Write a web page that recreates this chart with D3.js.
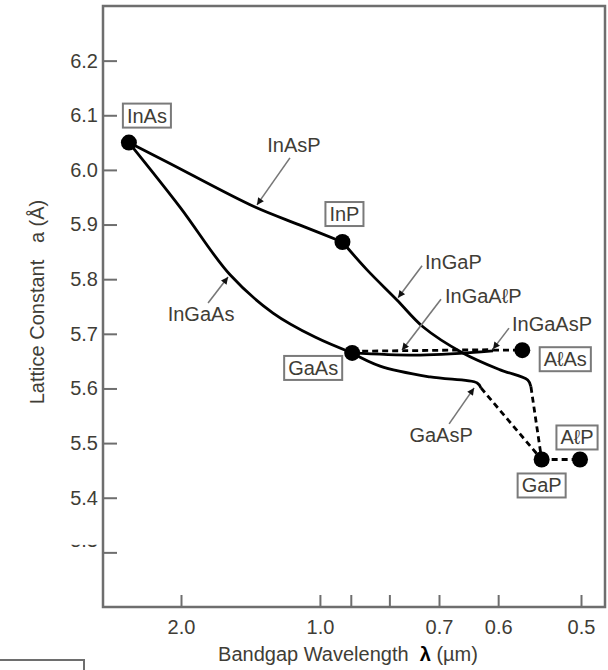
<!DOCTYPE html>
<html>
<head>
<meta charset="utf-8">
<script src="https://cdn.jsdelivr.net/npm/d3@7"></script>
<style>
  body { margin: 0; background: #fff; }
  svg { display: block; font-family: "Liberation Sans", Arial, Helvetica, sans-serif; }
</style>
</head>
<body>
<script>
// binary compounds: bandgap wavelength (um) and lattice constant (A)
var compounds = ["InAs", "InP", "GaAs", "A\u2113As", "GaP", "A\u2113P"];
var compoundLambda = [3.2, 0.925, 0.896, 0.567, 0.543, 0.501];
var compoundA = [6.05, 5.868, 5.665, 5.67, 5.47, 5.47];

// alloy curves (lambda, a)
var inAsPLambda = [3.2, 2.224, 1.305, 1.077, 0.925];
var inAsPA = [6.05, 6.0145, 5.932, 5.899, 5.868];
var inGaAsLambda = [3.2, 2.015, 1.478, 1.203, 1.018, 0.896];
var inGaAsA = [6.05, 5.932, 5.808, 5.738, 5.694, 5.665];
var inGaPLambda = [0.925, 0.855, 0.783, 0.729, 0.656, 0.597, 0.560, 0.556];
var inGaPA = [5.868, 5.817, 5.762, 5.7125, 5.665, 5.634, 5.6155, 5.603];
var inGaPIndLambda = [0.556, 0.543];
var inGaPIndA = [5.603, 5.47];
var gaAsPLambda = [0.896, 0.822, 0.716, 0.632, 0.626];
var gaAsPA = [5.665, 5.641, 5.621, 5.610, 5.601];
var gaAsPIndLambda = [0.626, 0.543];
var gaAsPIndA = [5.601, 5.47];
var alGaAsLambda = [0.896, 0.735, 0.6076];
var alGaAsA = [5.665, 5.661, 5.6686];
var inGaAlPLambda = [0.896, 0.6076];
var inGaAlPA = [5.668, 5.671];
var alGaAsIndLambda = [0.6076, 0.567];
var alGaAsIndA = [5.67, 5.67];
var alGaPLambda = [0.543, 0.501];
var alGaPA = [5.47, 5.47];

// arrow labels and the point on the curve they point to
var annoText = ["InAsP", "InGaAs", "InGaP", "InGaA\u2113P", "InGaAsP", "GaAsP"];
var annoLambda = [1.293, 1.494, 0.7805, 0.772, 0.6076, 0.637];
var annoA = [5.936, 5.804, 5.766, 5.670, 5.672, 5.601];

// ticks
var yTicks = [5.3, 5.4, 5.5, 5.6, 5.7, 5.8, 5.9, 6.0, 6.1, 6.2];
var xTickLambda = [2.0, 1.0, 0.9, 0.8, 0.7, 0.6, 0.5];
var xTickLabels = ["2.0", "1.0", "", "", "0.7", "0.6", "0.5"];

var width = 608, height = 670,
    margin = { top: 6, left: 103 },
    plotW = 502, plotH = 601,
    fontSize = "20px",
    textColor = "#3f3d36",
    frameColor = "#6e6e6e";

// layout of labels (pixel offsets from their anchor point)
var boxOffset = [[18, -27], [2, -28], [-39, 15], [43, 9], [0, 26], [-3, -22]];
var annoLayout = [
    { tx: 37, ty: -60, anchor: "middle", sx: 33, sy: -47 },
    { tx: -27, ty: 37, anchor: "middle", sx: -20, sy: 26 },
    { tx: 27, ty: -36, anchor: "start", sx: 24, sy: -32 },
    { tx: 43, ty: -54, anchor: "start", sx: 39, sy: -51 },
    { tx: 19, ty: -25, anchor: "start", sx: 16, sy: -21 },
    { tx: -33, ty: 47, anchor: "middle", sx: -25, sy: 36 }
];

var svg = d3.select("body").append("svg")
    .attr("width", width)
    .attr("height", height);

// arrow head
svg.append("defs").append("marker")
    .attr("id", "ah")
    .attr("viewBox", "0 0 10 10")
    .attr("refX", 10).attr("refY", 5)
    .attr("markerWidth", 9).attr("markerHeight", 7)
    .attr("markerUnits", "userSpaceOnUse")
    .attr("orient", "auto")
    .append("path").attr("d", "M0,0L10,5L0,10z").attr("fill", "#111");

// x is linear in photon energy (1/lambda), the short wavelength end is squeezed as in the original
var x = d3.scaleLinear().domain([1 / 2.0, 1 / 0.7, 1 / 0.5]).range([78, 336, 478]);
var y = d3.scaleLinear().domain([5.2, 6.3]).range([plotH, 0]);

var g = svg.append("g").attr("transform", "translate(" + margin.left + "," + margin.top + ")");

// frame
g.append("rect")
    .attr("width", plotW).attr("height", plotH)
    .attr("fill", "none")
    .attr("stroke", frameColor)
    .attr("stroke-width", 2.5);

// y axis, ticks pointing inward
var yAxis = g.append("g")
    .call(d3.axisLeft(y).tickValues(yTicks).tickFormat(d3.format(".1f")).tickSize(-14).tickPadding(5));
yAxis.select(".domain").remove();
yAxis.selectAll("line").attr("stroke", frameColor).attr("stroke-width", 2);
yAxis.selectAll("text").attr("fill", textColor).attr("font-size", fontSize)
    .attr("font-family", "Liberation Sans, Arial, sans-serif");

// the 5.3 label is almost hidden in the original, only its bottom edge shows
svg.append("defs").append("clipPath").attr("id", "cut53")
    .append("rect").attr("x", -40).attr("y", -8).attr("width", 40).attr("height", 4);
yAxis.selectAll(".tick").filter(function(d) { return d === 5.3; }).select("text")
    .attr("y", -12)
    .attr("clip-path", "url(#cut53)");

// x axis
var xAxis = g.append("g")
    .attr("transform", "translate(0," + plotH + ")")
    .call(d3.axisBottom(x)
        .tickValues(xTickLambda.map(function(l) { return 1 / l; }))
        .tickFormat(function(d, i) { return xTickLabels[i]; })
        .tickSize(-12).tickPadding(13));
xAxis.select(".domain").remove();
xAxis.selectAll("line").attr("stroke", frameColor).attr("stroke-width", 2);
xAxis.selectAll("text").attr("fill", textColor).attr("font-size", fontSize)
    .attr("font-family", "Liberation Sans, Arial, sans-serif");

// axis titles
svg.append("text")
    .attr("x", 348).attr("y", 661)
    .attr("text-anchor", "middle")
    .attr("font-size", fontSize)
    .attr("fill", textColor)
    .style("white-space", "pre")
    .html('Bandgap Wavelength  <tspan font-weight="bold" fill="#000">\u03bb</tspan> (\u00b5m)');

svg.append("text")
    .attr("transform", "translate(44,302) rotate(-90)")
    .attr("text-anchor", "middle")
    .attr("font-size", fontSize)
    .attr("fill", textColor)
    .style("white-space", "pre")
    .text("Lattice Constant   a (\u00c5)");

// piece of a caption box cut by the bottom edge
svg.append("rect")
    .attr("x", -4).attr("y", 660).attr("width", 88).attr("height", 40)
    .attr("fill", "none").attr("stroke", frameColor).attr("stroke-width", 2);

// curves
var line = d3.line()
    .x(function(d) { return x(1 / d[0]); })
    .y(function(d) { return y(d[1]); })
    .curve(d3.curveCatmullRom.alpha(0.5));

var curves = [
    { l: inAsPLambda, a: inAsPA, dash: false },
    { l: inGaAsLambda, a: inGaAsA, dash: false },
    { l: inGaPLambda, a: inGaPA, dash: false },
    { l: inGaPIndLambda, a: inGaPIndA, dash: true },
    { l: gaAsPLambda, a: gaAsPA, dash: false },
    { l: gaAsPIndLambda, a: gaAsPIndA, dash: true },
    { l: alGaAsLambda, a: alGaAsA, dash: false },
    { l: inGaAlPLambda, a: inGaAlPA, dash: true },
    { l: alGaAsIndLambda, a: alGaAsIndA, dash: true },
    { l: alGaPLambda, a: alGaPA, dash: true }
];

g.selectAll(".curve")
    .data(curves)
    .enter().append("path")
    .attr("class", "curve")
    .attr("d", function(c) { return line(c.l.map(function(v, i) { return [v, c.a[i]]; })); })
    .attr("fill", "none")
    .attr("stroke", "#000")
    .attr("stroke-width", 2.8)
    .attr("stroke-dasharray", function(c) { return c.dash ? "6,4" : null; });

// dots
g.selectAll(".dot")
    .data(compounds)
    .enter().append("circle")
    .attr("class", "dot")
    .attr("cx", function(d, i) { return x(1 / compoundLambda[i]); })
    .attr("cy", function(d, i) { return y(compoundA[i]); })
    .attr("r", 8)
    .attr("fill", "#000");

// boxed compound names
var boxes = g.selectAll(".box")
    .data(compounds)
    .enter().append("g")
    .attr("class", "box")
    .attr("transform", function(d, i) {
        return "translate(" + (x(1 / compoundLambda[i]) + boxOffset[i][0]) + "," +
            (y(compoundA[i]) + boxOffset[i][1]) + ")";
    });
boxes.append("text")
    .attr("text-anchor", "middle")
    .attr("dy", "0.35em")
    .attr("font-size", fontSize)
    .attr("fill", textColor)
    .text(function(d) { return d; });
boxes.each(function() {
    var b = d3.select(this).select("text").node().getBBox();
    d3.select(this).insert("rect", "text")
        .attr("x", b.x - 4).attr("y", b.y - 1)
        .attr("width", b.width + 8).attr("height", b.height + 2)
        .attr("fill", "#fff")
        .attr("stroke", "#7a7a7a")
        .attr("stroke-width", 2);
});

// arrow labels
var annos = g.selectAll(".anno")
    .data(annoText)
    .enter().append("g")
    .attr("class", "anno");
annos.append("line")
    .attr("x1", function(d, i) { return x(1 / annoLambda[i]) + annoLayout[i].sx; })
    .attr("y1", function(d, i) { return y(annoA[i]) + annoLayout[i].sy; })
    .attr("x2", function(d, i) { return x(1 / annoLambda[i]); })
    .attr("y2", function(d, i) { return y(annoA[i]); })
    .attr("stroke", "#777")
    .attr("stroke-width", 1.6)
    .attr("marker-end", "url(#ah)");
annos.append("text")
    .attr("x", function(d, i) { return x(1 / annoLambda[i]) + annoLayout[i].tx; })
    .attr("y", function(d, i) { return y(annoA[i]) + annoLayout[i].ty; })
    .attr("dy", "0.35em")
    .attr("text-anchor", function(d, i) { return annoLayout[i].anchor; })
    .attr("font-size", fontSize)
    .attr("fill", textColor)
    .text(function(d) { return d; });
</script>
</body>
</html>
